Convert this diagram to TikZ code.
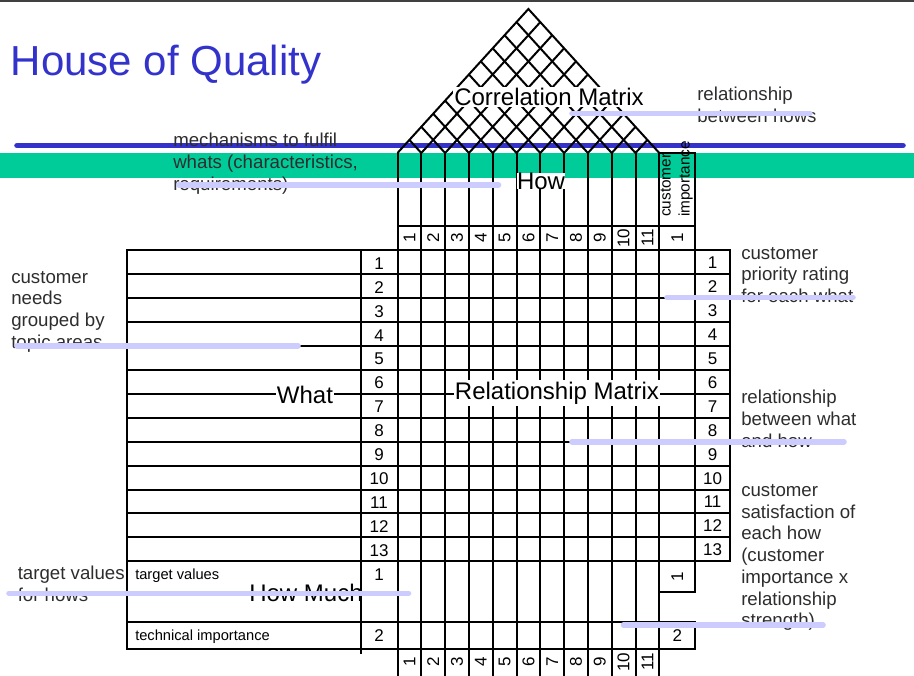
\documentclass[tikz,border=0pt]{standalone}
\usepackage{fontspec}
\setmainfont{Liberation Sans}
\usepackage{tikz}
\usetikzlibrary{positioning}

\definecolor{titleblue}{RGB}{51,51,204}
\definecolor{bandgreen}{RGB}{0,204,153}
\definecolor{notelilac}{RGB}{204,204,255}
\definecolor{notegray}{RGB}{45,45,45}

\tikzset{
  gridline/.style={line width=1.5pt,line cap=rect},
  roofline/.style={line width=1.5pt},
  noteline/.style={notelilac,line width=4.2pt,line cap=round},
  note/.style={anchor=base west,align=left,inner sep=0pt,text=notegray,
    font=\fontsize{14}{16.3}\selectfont},
  part/.style={fill=white,inner sep=1pt,font=\fontsize{18}{20}\selectfont},
  num/.style={anchor=base,inner sep=0pt,font=\fontsize{12.75}{14}\selectfont},
  vnum/.style={rotate=90,inner sep=0pt,font=\fontsize{12.75}{14}\selectfont},
  small/.style={anchor=base west,inner sep=0pt,font=\fontsize{11}{13}\selectfont},
}

\begin{document}
\begin{tikzpicture}[x=0.75pt,y=-0.75pt]
\useasboundingbox (0,0) rectangle (914,675);

% definitions
\def\colw{23.8}   % width of a how column
\def\rowh{23.95}  % height of a what row
\def\xa{397.5}    % left edge of the hows
\def\xe{659.3}    % right edge of the hows
\def\xf{695.3}    % right edge of customer importance
\def\xg{730}      % right edge of the priority ratings
\def\slope{1.1}

% background
\draw[black!75,line width=1.8pt] (0,1.2) -- (914,1.2);
\fill[bandgreen] (0,152.7) rectangle (914,177.7);
\draw[titleblue,line width=4.2pt,line cap=round] (17,145.5) -- (903,145.5);

% roof
\draw[roofline] (\xa,153) -- ({(\xa+\xe)/2},{153-\slope*(\xe-\xa)/2}) -- (\xe,153);
\foreach \i in {1,...,10}{
  \pgfmathsetmacro\xb{\xa+\i*\colw}
  \draw[roofline] ({(\xa+\xb)/2},{153-\slope*(\xb-\xa)/2}) -- (\xb,153)
    -- ({(\xb+\xe)/2},{153-\slope*(\xe-\xb)/2});
}

% drawing
\foreach \i in {0,...,11}
  \draw[gridline] ({\xa+\i*\colw},153) -- ({\xa+\i*\colw},675);
\draw[gridline] (\xe,153) -- (\xf,153) -- (\xf,{250+13*\rowh});
\draw[gridline] (\xa,226) -- (\xf,226);
\foreach \r in {0,...,13}
  \draw[gridline] (127,{250+\r*\rowh}) -- (\xg,{250+\r*\rowh});
\draw[gridline] (\xg,250) -- (\xg,{250+13*\rowh});
\draw[gridline] (127,250) -- (127,649.3);
\draw[gridline] (361,250) -- (361,653);
\draw[gridline] (127,621.7) -- (\xf,621.7) -- (\xf,649.3) -- (127,649.3);
\draw[gridline] (\xe,591.7) -- (\xf,591.7) -- (\xf,{250+13*\rowh});

% numbers
\foreach \r in {1,...,13}{
  \node[num] (w\r) at (379,{250+\r*\rowh-4.8}) {\r};
  \node[num] (p\r) at (712.6,{250+\r*\rowh-5.5}) {\r};
}
\foreach \i in {1,...,11}{
  \node[vnum] (h\i) at ({\xa+(\i-0.5)*\colw},238) {\i};
  \node[vnum] (b\i) at ({\xa+(\i-0.5)*\colw},662) {\i};
}
\node[vnum] (ci) at (677.3,238) {1};
\node[vnum] (ct) at (677.3,576.5) {1};
\node[num] (cs) at (677.3,641.5) {2};
\node[num] (wt) at (379,580) {1};
\node[num] (ws) at (379,641) {2};
\node[rotate=90,anchor=west,align=left,inner sep=0pt,
  font=\fontsize{11.5}{14.25}\selectfont] (cihead) at (676.8,217) {customer\\importance};
\node[small] (tv) at (135,579.3) {target values};
\node[small] (ti) at (135,640) {technical importance};

% labels
\node[anchor=base west,inner sep=0pt,text=titleblue,
  font=\fontsize{31.5}{36}\selectfont] (title) at (10.5,75) {House of Quality};
\node[part] (corr) at (549,97) {Correlation Matrix};
\node[part,inner sep=0pt] (how) at (541,181) {How};
\node[part] (what) at (305,395) {What};
\node[part] (relmat) at (557,393) {Relationship Matrix};
\node[part,fill=none] (howmuch) at (306,593) {How Much};

% notes (placed by the baseline of their last line)
\node[note] (n1) at (697,122.2) {relationship\\between hows};
\node[note] (n2) at (173,190.1) {mechanisms to fulfil\\whats (characteristics,\\requirements)};
\node[note] (n3) at (11,348.4) {customer\\needs\\grouped by\\topic areas};
\node[note] (n4) at (741,302.7) {customer\\priority rating\\for each what};
\node[note] (n5) at (741,447.4) {relationship\\between what\\and how};
\node[note] (n6) at (741,626.9) {customer\\satisfaction of\\each how\\(customer\\importance x\\relationship\\strength)};
\node[note] (n7) at (17.5,601) {target values\\for hows};

\draw[noteline] (572,113.3) -- (810,113.3);
\draw[noteline] (179,185) -- (498.5,185);
\draw[noteline] (17,345.7) -- (298,345.7);
\draw[noteline] (667,297.3) -- (853,297.3);
\draw[noteline] (572,441.7) -- (844,441.7);
\draw[noteline] (623.5,625) -- (823,625);
\draw[noteline] (9,593.3) -- (408.5,593.3);
\end{tikzpicture}
\end{document}
